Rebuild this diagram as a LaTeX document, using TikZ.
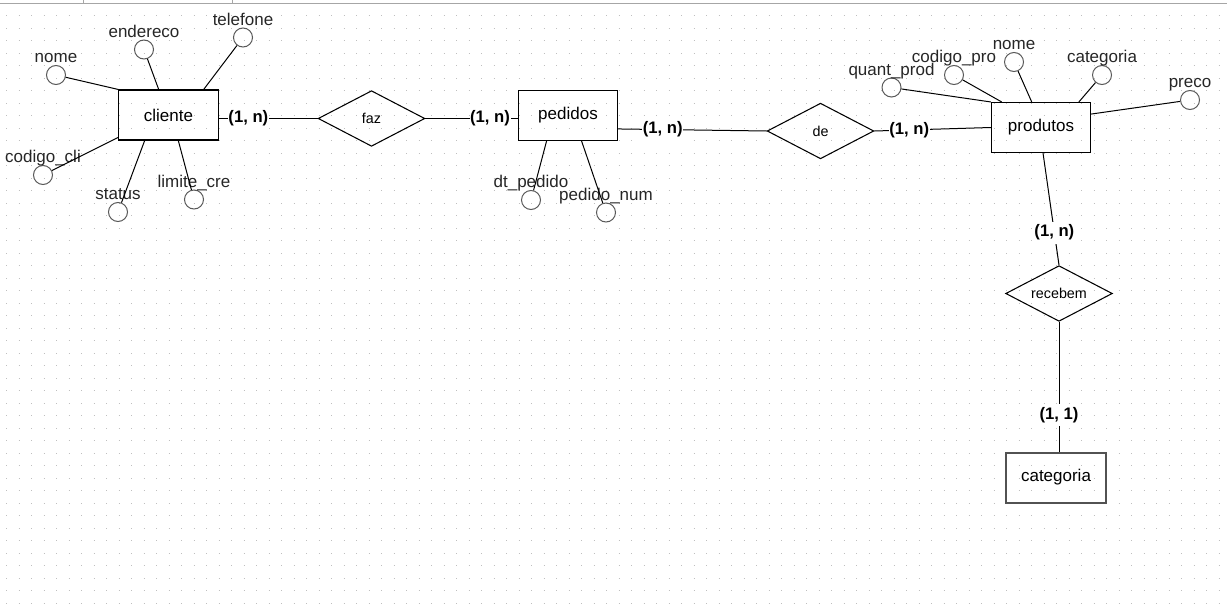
\documentclass[tikz,border=0pt]{standalone}
\usepackage{fontspec}
\setmainfont{Liberation Sans}
\usetikzlibrary{positioning,shapes.geometric}
\tikzstyle{entity} = [draw, rectangle, line width=0.8pt,
    minimum width=74.5pt, minimum height=37.5pt, font=\fontsize{12.75}{15}\selectfont]
\tikzstyle{relship} = [draw, diamond, aspect=2, line width=0.8pt, inner sep=0pt,
    minimum width=80pt, minimum height=41.75pt, font=\fontsize{10.75}{13}\selectfont]
\tikzstyle{attrib} = [draw=black!65, circle, line width=0.75pt, inner sep=0pt, minimum size=14.25pt]
\tikzstyle{attrname} = [anchor=base, label distance=1.65pt, inner sep=0pt,
    font=\fontsize{12.75}{15}\selectfont, text=black!85]
\tikzstyle{card} = [fill=white, inner xsep=0.5pt, inner ysep=2.5pt,
    font=\bfseries\fontsize{12.5}{15}\selectfont]
\tikzstyle{dotgrid} = [black!25, line width=0.75pt,
    dash pattern=on 0.75pt off 8.625pt, dash phase=4.875pt]

\begin{document}
\begin{tikzpicture}[x=0.75pt, y=-0.75pt, line width=0.75pt]
	  \useasboundingbox (0,0) rectangle (1227,614);
	  % background grid
	  \foreach \r in {0,...,48}
	    \draw [dotgrid] (0,3+12.5*\r) -- (1227,3+12.5*\r);
	  \draw [black!35] (0,3) -- (1227,3);
	  \draw [black!35] (83,0) -- (83,3);
	  \draw [black!35] (232,0) -- (232,3);
	  % entities and relationships
	  \node [entity] (cliente) at (168.5,115) {cliente};
	  \node [relship] (faz) at (371.5,118.5) {faz};
	  \node [entity] (pedidos) at (568,115.5) {pedidos};
	  \node [relship] (de) at (820.5,131) {de};
	  \node [entity] (produtos) at (1041,127.5) {produtos};
	  \node [relship] (recebem) at (1059,293.5) {recebem};
	  \node [entity, draw=black!68, line width=1.5pt] (categoria) at (1056,477.5) {categoria};
	  % attributes of cliente
	  \node [attrib, label={[attrname]90:nome}] (nome-cli) at (56,75) {};
	  \node [attrib, label={[attrname]90:endereco}] (endereco) at (144,49.5) {};
	  \node [attrib, label={[attrname]90:telefone}] (telefone) at (243,37.5) {};
	  \node [attrib, label={[attrname]90:codigo\_cli}] (codigo-cli) at (43,175) {};
	  \node [attrib, label={[attrname]90:status}] (status) at (118,212) {};
	  \node [attrib, label={[attrname]90:limite\_cre}] (limite-cre) at (194,199.5) {};
	  \draw (nome-cli) -- (cliente.north west);
	  \draw (endereco) -- (cliente.111);
	  \draw (telefone) -- (cliente.36);
	  \draw (codigo-cli) -- (cliente.204);
	  \draw (status) -- (cliente.227);
	  \draw (limite-cre) -- (cliente.291);
	  % attributes of pedidos
	  \node [attrib, label={[attrname]90:dt\_pedido}] (dt-pedido) at (531,200) {};
	  \node [attrib, label={[attrname]90:pedido\_num}] (pedido-num) at (606,212.5) {};
	  \draw (dt-pedido) -- (pedidos.230);
	  \draw (pedido-num) -- (pedidos.298);
	  % attributes of produtos
	  \node [attrib, label={[attrname]90:quant\_prod}] (quant-prod) at (891.5,87.5) {};
	  \node [attrib, label={[attrname]90:codigo\_pro}] (codigo-pro) at (954,75) {};
	  \node [attrib, label={[attrname]90:nome}] (nome-pro) at (1014,62) {};
	  \node [attrib, label={[attrname]90:categoria}] (categoria-pro) at (1102,75) {};
	  \node [attrib, label={[attrname]90:preco}] (preco) at (1190,100) {};
	  \draw (quant-prod) -- (produtos.north west);
	  \draw (codigo-pro) -- (produtos.147);
	  \draw (nome-pro) -- (produtos.110);
	  \draw (categoria-pro) -- (produtos.34);
	  \draw (preco) -- (produtos.15);
	  % connectors with cardinalities
	  \draw (cliente.east |- faz.west) -- node [card, pos=0.3] (card-cli) {(1, n)} (faz.west);
	  \draw (faz.east) -- node [card, pos=0.7] (card-ped) {(1, n)} (faz.east -| pedidos.west);
	  \draw (pedidos.-15) -- node [card, pos=0.3] (card-de) {(1, n)} (de.west);
	  \draw (de.east) -- node [card, pos=0.3] (card-pro) {(1, n)} (produtos.west);
	  \draw ([xshift=1.5pt]produtos.south) -- node [card, pos=0.71] (card-rec) {(1, n)} (recebem.north);
	  \draw (recebem.south) -- node [card, pos=0.72] (card-cat) {(1, 1)} (recebem.south |- categoria.north);
	\end{tikzpicture}
\end{document}
